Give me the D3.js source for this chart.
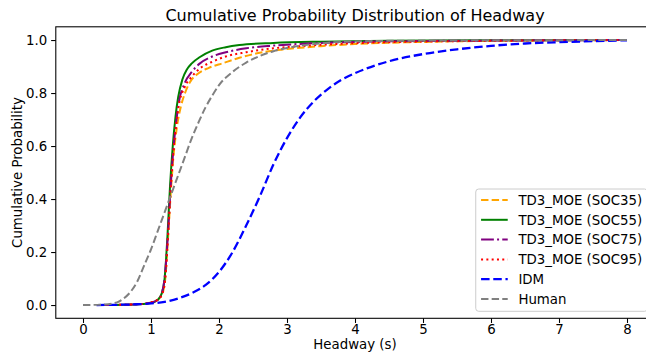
<!DOCTYPE html>
<html>
<head>
<meta charset="utf-8">
<script src="https://cdn.jsdelivr.net/npm/d3@7"></script>
<style>
  body { margin: 0; background: #fff; }
  text { font-family: 'DejaVu Sans', sans-serif; fill: #000; }
</style>
</head>
<body>
<div id="chart-container"></div>
<script>
// headway (s) vs cumulative probability
const soc35 = [[0.3,0],[0.8,0.003],[1.0,0.01],[1.1,0.02],[1.17,0.045],[1.21,0.1],[1.25,0.25],[1.29,0.42],[1.33,0.56],[1.38,0.67],[1.44,0.75],[1.5,0.8],[1.57,0.84],[1.7,0.875],[1.85,0.895],[2.06,0.913],[2.3,0.933],[2.56,0.95],[3.0,0.966],[3.5,0.977],[4.0,0.985],[5.0,0.993],[6.0,0.997],[8.0,1.0]];
const soc55 = [[0.3,0],[0.6,0.001],[0.8,0.003],[1.0,0.008],[1.1,0.02],[1.16,0.045],[1.2,0.1],[1.24,0.25],[1.28,0.45],[1.32,0.6],[1.36,0.71],[1.4,0.785],[1.46,0.85],[1.53,0.89],[1.6,0.912],[1.72,0.936],[1.9,0.96],[2.1,0.973],[2.3,0.981],[2.8,0.989],[3.5,0.994],[4.5,0.997],[6.0,0.999],[8.0,1.0]];
const soc75 = [[0.3,0],[0.8,0.003],[1.0,0.009],[1.1,0.02],[1.16,0.045],[1.2,0.1],[1.25,0.27],[1.29,0.45],[1.33,0.59],[1.37,0.69],[1.4,0.75],[1.5,0.84],[1.6,0.88],[1.72,0.912],[1.9,0.938],[2.1,0.954],[2.4,0.969],[2.8,0.979],[3.5,0.989],[4.5,0.995],[6.0,0.998],[8.0,1.0]];
const soc95 = [[0.3,0],[0.8,0.003],[1.0,0.01],[1.1,0.02],[1.17,0.045],[1.21,0.1],[1.25,0.26],[1.29,0.44],[1.33,0.58],[1.37,0.68],[1.4,0.74],[1.5,0.825],[1.6,0.862],[1.72,0.893],[1.9,0.918],[2.1,0.938],[2.4,0.954],[2.8,0.969],[3.2,0.977],[3.8,0.986],[4.5,0.992],[6.0,0.997],[8.0,1.0]];
const idm = [[0.2,0],[0.5,0.001],[0.8,0.003],[1.0,0.006],[1.2,0.012],[1.4,0.025],[1.6,0.045],[1.8,0.075],[2.0,0.125],[2.2,0.2],[2.4,0.3],[2.6,0.41],[2.8,0.53],[3.0,0.63],[3.2,0.71],[3.4,0.77],[3.6,0.815],[3.8,0.85],[4.0,0.875],[4.5,0.92],[5.0,0.947],[5.5,0.965],[6.0,0.978],[6.5,0.987],[7.0,0.992],[7.5,0.996],[8.0,0.999]];
const human = [[0,0],[0.3,0.002],[0.5,0.01],[0.6,0.025],[0.7,0.05],[0.8,0.09],[0.9,0.15],[1.0,0.21],[1.1,0.28],[1.2,0.35],[1.3,0.42],[1.4,0.49],[1.5,0.56],[1.6,0.63],[1.7,0.69],[1.8,0.745],[1.9,0.79],[2.0,0.83],[2.2,0.88],[2.4,0.915],[2.6,0.94],[2.8,0.958],[3.0,0.97],[3.3,0.982],[3.6,0.99],[4.0,0.995],[5.0,0.998],[6.0,0.999],[8.0,1.0]];

const seriesNames = ['TD3_MOE (SOC35)', 'TD3_MOE (SOC55)', 'TD3_MOE (SOC75)', 'TD3_MOE (SOC95)', 'IDM', 'Human'];
const xTicks = [0, 1, 2, 3, 4, 5, 6, 7, 8];
const yTicks = [0, 0.2, 0.4, 0.6, 0.8, 1.0];

const options = {
  width: 646,
  height: 353,
  fontSize: 13.33,
  titleSize: 16
};

const series = [
  {name: seriesNames[0], data: soc35, color: '#ffa500', width: 2, dash: '7.4,3.2'},
  {name: seriesNames[1], data: soc55, color: '#008000', width: 2, dash: null},
  {name: seriesNames[2], data: soc75, color: '#800080', width: 2, dash: '12.8,3.2,2,3.2'},
  {name: seriesNames[3], data: soc95, color: '#ff0000', width: 2, dash: '2,3.3'},
  {name: seriesNames[4], data: idm, color: '#0000ff', width: 2.3, dash: '8.5,3.7'},
  {name: seriesNames[5], data: human, color: '#808080', width: 2, dash: '7.4,3.2'}
];

const svg = d3.select('#chart-container').append('svg')
  .attr('width', options.width)
  .attr('height', options.height);

svg.append('rect')
  .attr('width', options.width)
  .attr('height', options.height)
  .attr('fill', '#fff');

const x = d3.scaleLinear().domain([-0.4, 8.4]).range([55.8, 654.2]);
const y = d3.scaleLinear().domain([-0.05, 1.05]).range([318.3, 26.8]);

//axes
const xAxis = d3.axisBottom(x)
  .tickValues(xTicks)
  .tickFormat(d3.format('d'))
  .tickSizeOuter(0)
  .tickSize(4.67)
  .tickPadding(1.8);
const yAxis = d3.axisLeft(y)
  .tickValues(yTicks)
  .tickFormat(d3.format('.1f'))
  .tickSizeOuter(0)
  .tickSize(4.67)
  .tickPadding(4);

const gx = svg.append('g')
  .attr('transform', 'translate(0,' + y.range()[0] + ')')
  .call(xAxis);
const gy = svg.append('g')
  .attr('transform', 'translate(' + x.range()[0] + ',0)')
  .call(yAxis);
[gx, gy].forEach(g => {
  g.select('.domain').remove();
  g.selectAll('.tick line').attr('stroke', '#000').attr('stroke-width', 1.07);
  g.selectAll('.tick text')
    .style('font-family', "'DejaVu Sans', sans-serif")
    .style('font-size', options.fontSize + 'px')
    .attr('fill', '#000');
});

//curves
const line = d3.line()
  .x(d => x(d[0]))
  .y(d => y(d[1]))
  .curve(d3.curveMonotoneX);

const plot = svg.append('g');
series.forEach(s => {
  plot.append('path')
    .attr('fill', 'none')
    .attr('stroke', s.color)
    .attr('stroke-width', s.width)
    .attr('stroke-dasharray', s.dash)
    .attr('d', line(s.data));
});

//frame
svg.append('rect')
  .attr('x', x.range()[0])
  .attr('y', y.range()[1])
  .attr('width', x.range()[1] - x.range()[0])
  .attr('height', y.range()[0] - y.range()[1])
  .attr('fill', 'none')
  .attr('stroke', '#000')
  .attr('stroke-width', 1.07);

//title and labels
svg.append('text')
  .attr('x', (x.range()[0] + x.range()[1]) / 2)
  .attr('y', 21)
  .attr('text-anchor', 'middle')
  .style('font-size', options.titleSize + 'px')
  .text('Cumulative Probability Distribution of Headway');

svg.append('text')
  .attr('x', (x.range()[0] + x.range()[1]) / 2)
  .attr('y', 349)
  .attr('text-anchor', 'middle')
  .style('font-size', options.fontSize + 'px')
  .text('Headway (s)');

svg.append('text')
  .attr('transform', 'translate(22,' + ((y.range()[0] + y.range()[1]) / 2) + ') rotate(-90)')
  .attr('text-anchor', 'middle')
  .style('font-size', options.fontSize + 'px')
  .text('Cumulative Probability');

//legend
const fs = options.fontSize;
const rowH = 19.8;
const legend = svg.append('g');
const legendBox = legend.append('rect');
const labels = [];
series.forEach((s, i) => {
  const row = legend.append('g').attr('class', 'row');
  row.append('line')
    .attr('stroke', s.color)
    .attr('stroke-width', s.width)
    .attr('stroke-dasharray', s.dash);
  labels.push(row.append('text')
    .style('font-size', fs + 'px')
    .text(s.name));
});
const textW = d3.max(labels, t => t.node().getComputedTextLength());
const legendW = fs * 0.4 * 2 + fs * 2 + fs * 0.8 + textW;
const legendH = 122.3;
const legendRight = x.range()[1] - fs * 0.5;
const legendBottom = y.range()[0] - 7;
const legendLeft = legendRight - legendW;
const legendTop = legendBottom - legendH;
legendBox
  .attr('x', legendLeft)
  .attr('y', legendTop)
  .attr('width', legendW)
  .attr('height', legendH)
  .attr('rx', 3)
  .attr('fill', '#fff')
  .attr('fill-opacity', 0.8)
  .attr('stroke', '#cccccc')
  .attr('stroke-width', 1);
legend.selectAll('g.row').each(function(d, i) {
  const cy = legendTop + 11 + i * rowH;
  const row = d3.select(this);
  row.select('line')
    .attr('x1', legendLeft + fs * 0.4)
    .attr('x2', legendLeft + fs * 0.4 + fs * 2)
    .attr('y1', cy)
    .attr('y2', cy);
  row.select('text')
    .attr('x', legendLeft + fs * 0.4 + fs * 2 + fs * 0.8)
    .attr('y', cy + 4.8);
});
</script>
</body>
</html>
